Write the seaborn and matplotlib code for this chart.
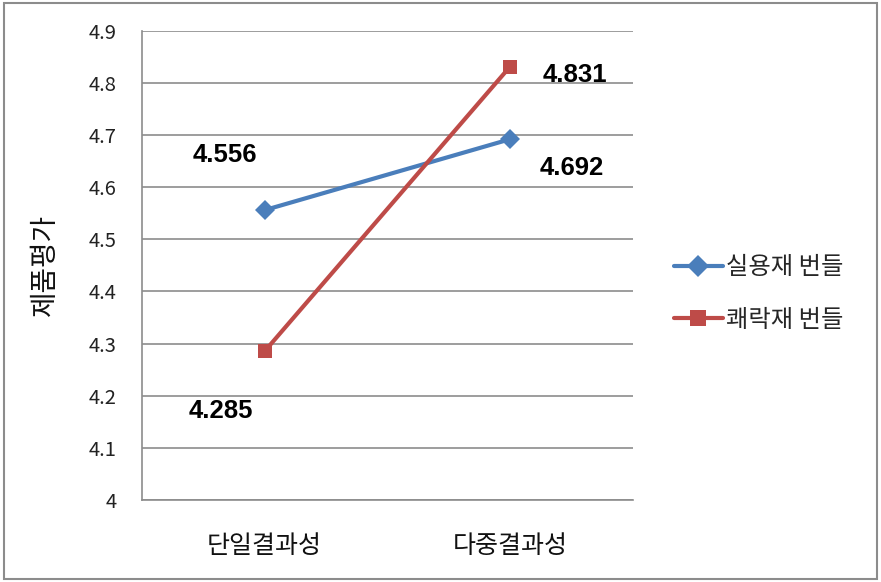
import matplotlib
matplotlib.use("Agg")
import matplotlib.pyplot as plt
import seaborn as sns
import pandas as pd
from matplotlib.patches import Rectangle

categories = ["단일결과성", "다중결과성"]
series_names = ["실용재 번들", "쾌락재 번들"]
utilitarian = [4.556, 4.692]
hedonic = [4.285, 4.831]
y_ticks = [4.0, 4.1, 4.2, 4.3, 4.4, 4.5, 4.6, 4.7, 4.8, 4.9]
y_tick_labels = ["4", "4.1", "4.2", "4.3", "4.4", "4.5", "4.6", "4.7", "4.8", "4.9"]
y_label = "제품평가"

sns.set_theme(style="white")
plt.rcParams['font.family'] = ['Noto Sans CJK KR', 'DejaVu Sans']

df = pd.DataFrame({
    "cat": categories * 2,
    "value": utilitarian + hedonic,
    "series": [series_names[0]] * 2 + [series_names[1]] * 2,
})

fig = plt.figure(figsize=(8.81, 5.82), dpi=100)
ax = fig.add_axes([0.161, 0.141, 0.557, 0.806])

palette = {series_names[0]: "#4a7ebb", series_names[1]: "#be4b48"}
sns.lineplot(data=df, x="cat", y="value", hue="series", style="series",
             markers={series_names[0]: "D", series_names[1]: "s"},
             dashes=False, palette=palette, linewidth=3, markersize=10,
             markeredgewidth=0, ax=ax, sort=False)

ax.set_xlim(-0.5, 1.5)
ax.set_ylim(4.0, 4.9)
ax.set_yticks(y_ticks)
ax.set_yticklabels(y_tick_labels, fontsize=14.5, color="#222222")
ax.set_xticks(range(len(categories)))
ax.set_xticklabels(categories, fontsize=18, color="#111111")
ax.tick_params(axis="both", length=0)
ax.tick_params(axis="y", pad=18)
ax.tick_params(axis="x", pad=24)
ax.yaxis.grid(True, color="#8c8c8c", linewidth=1.2)
ax.set_axisbelow(True)
for s in ["top", "right"]:
    ax.spines[s].set_visible(False)
for s in ["left", "bottom"]:
    ax.spines[s].set_color("#8c8c8c")
    ax.spines[s].set_linewidth(1.2)
ax.set_xlabel("")
ax.set_ylabel(y_label, fontsize=20, labelpad=21, color="#111111")

offsets_u = [(-40, 55), (62, -29)]
offsets_h = [(-44, -60), (65, -8)]
for i, v in enumerate(utilitarian):
    ax.annotate(f"{v:.3f}", (i, v), xytext=offsets_u[i], textcoords="offset pixels",
                ha="center", va="center", fontsize=18.5, fontweight="bold",
                family="Liberation Sans", color="#000000")
for i, v in enumerate(hedonic):
    ax.annotate(f"{v:.3f}", (i, v), xytext=offsets_h[i], textcoords="offset pixels",
                ha="center", va="center", fontsize=18.5, fontweight="bold",
                family="Liberation Sans", color="#000000")

leg = ax.legend(loc="center left", bbox_to_anchor=(1.04, 0.44), frameon=False,
                fontsize=17.5, handlelength=2.0, handletextpad=0.15, labelspacing=1.1)
for h in leg.legend_handles:
    h.set_markersize(11)

fig.patches.append(Rectangle((0.004, 0.005), 0.992, 0.99, transform=fig.transFigure,
                             fill=False, edgecolor="#8c8c8c", linewidth=1.5))

fig.savefig("out.png", dpi=100)
